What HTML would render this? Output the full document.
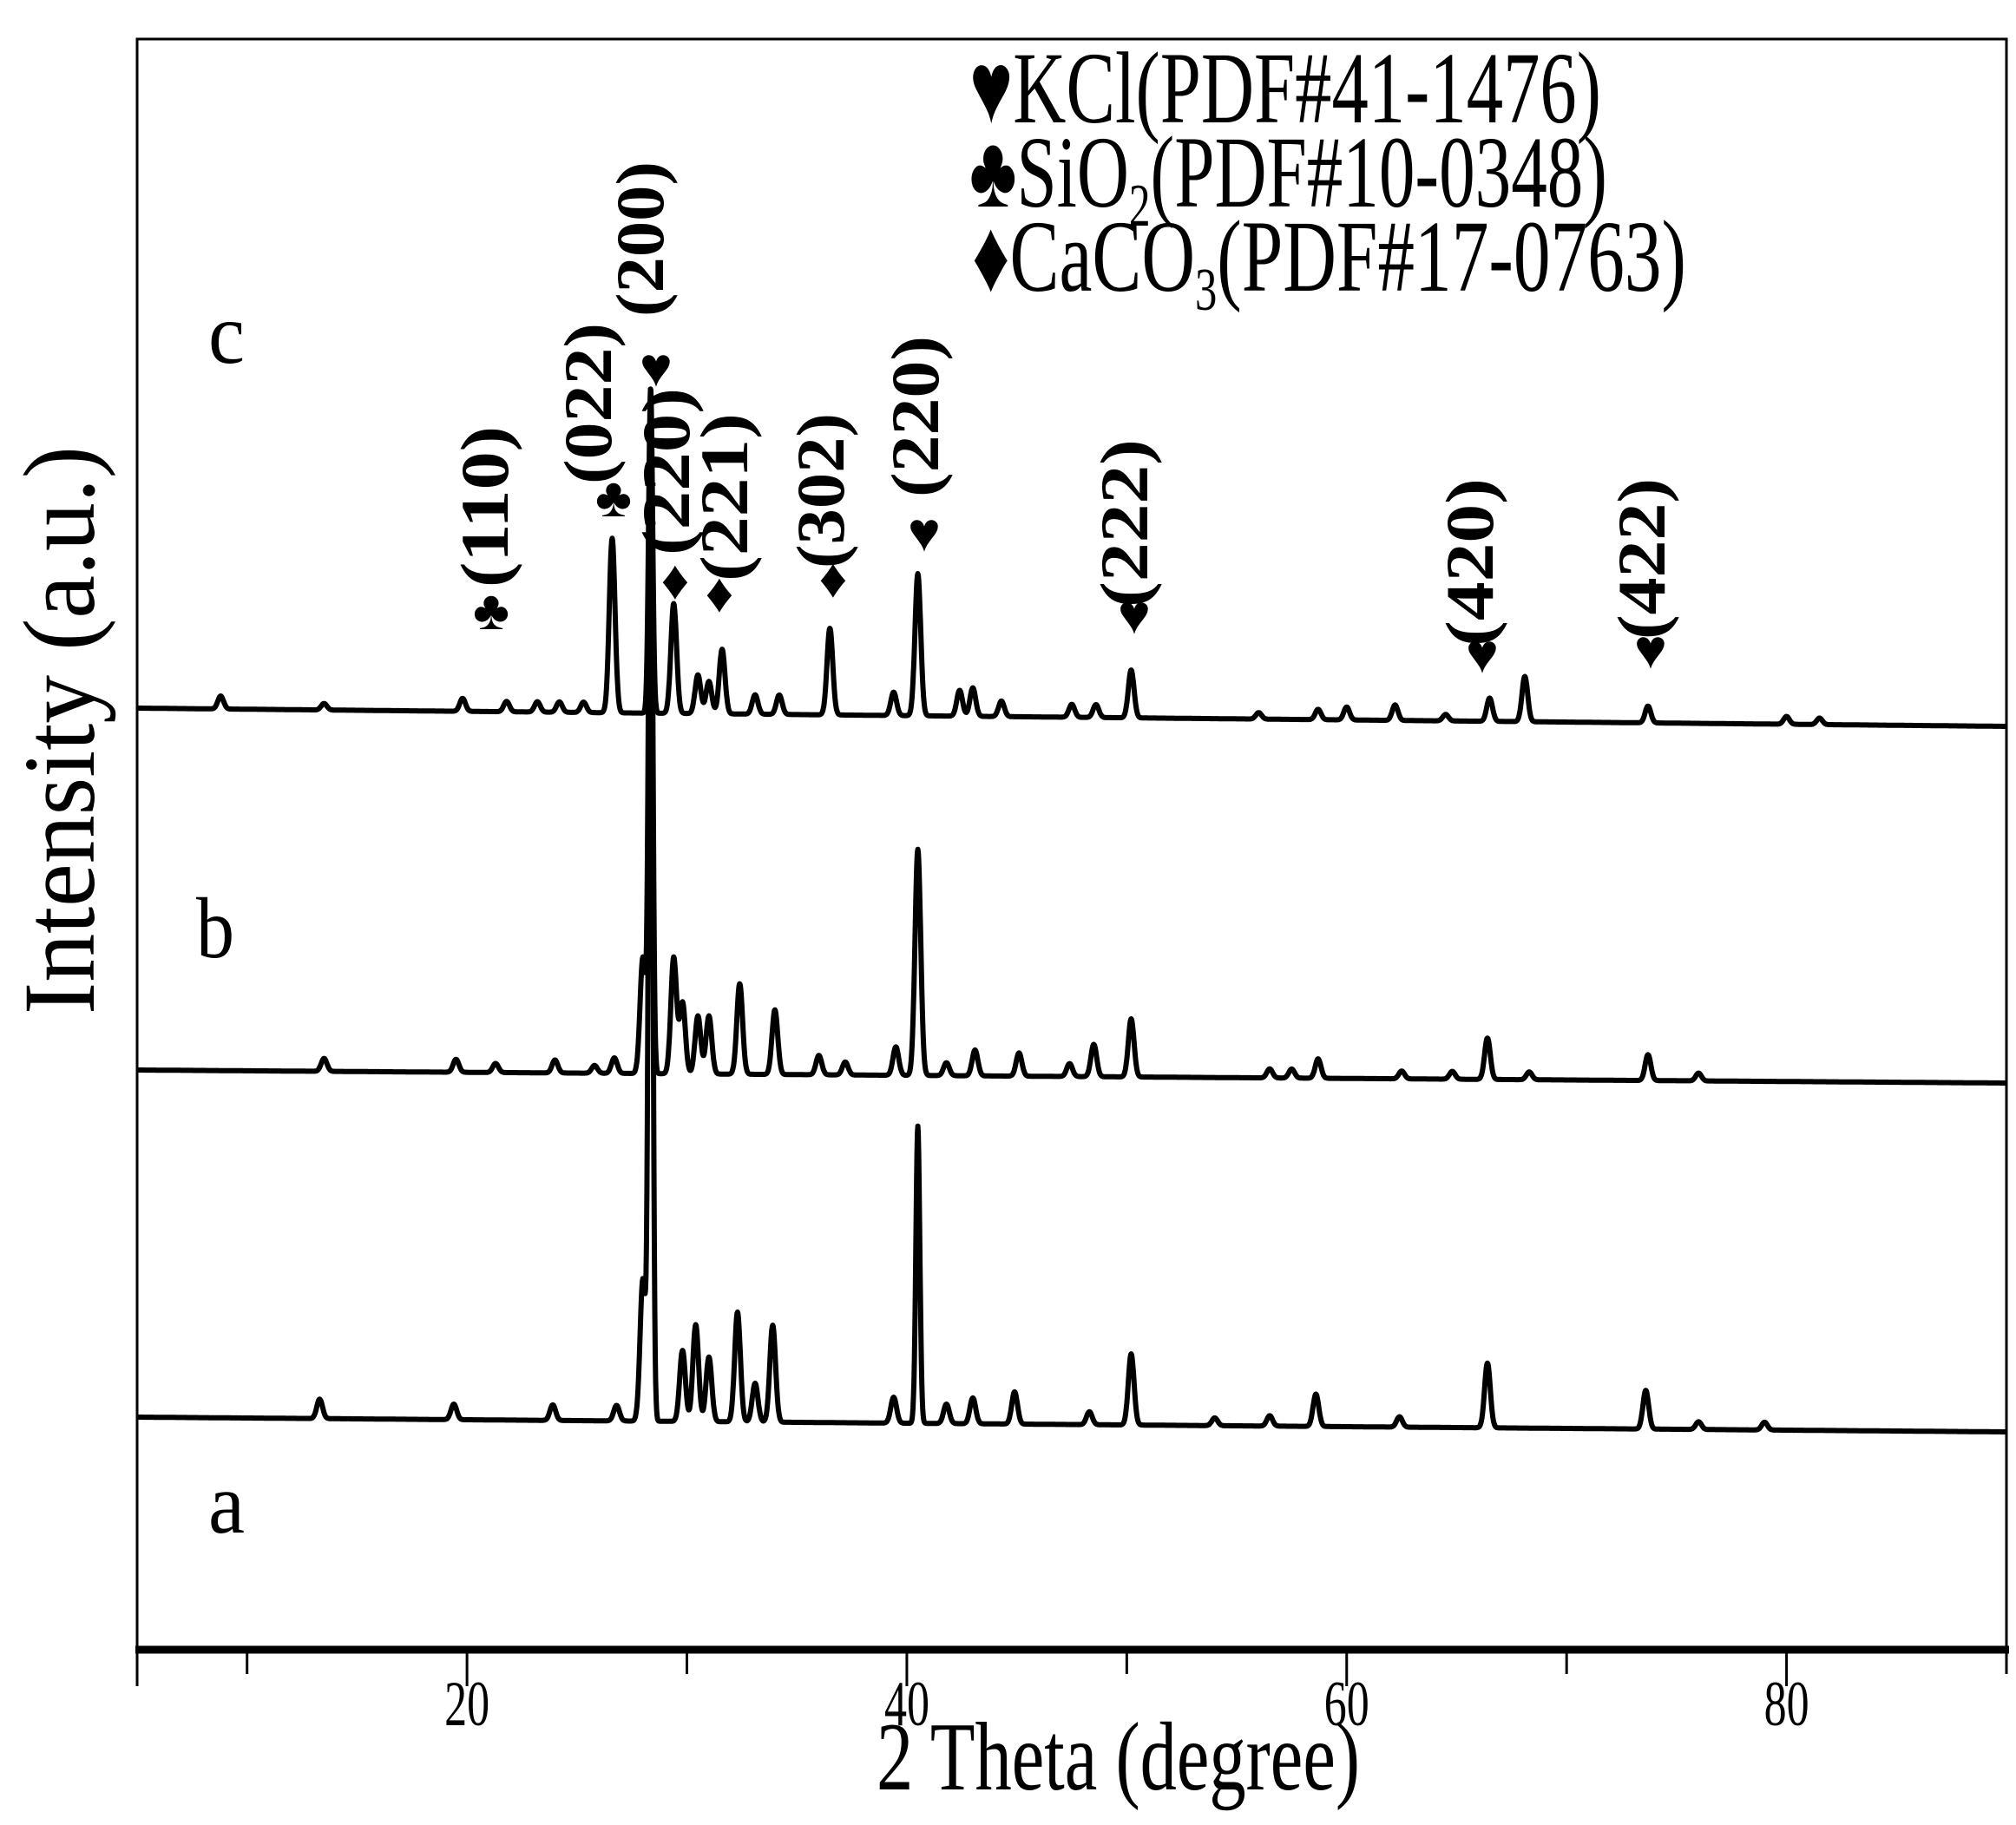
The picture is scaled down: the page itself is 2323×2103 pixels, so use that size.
<!DOCTYPE html>
<html><head><meta charset="utf-8"><style>
html,body{margin:0;padding:0;background:#fff}
svg{display:block}
text{font-family:"Liberation Serif",serif;fill:#000}
</style></head><body>
<svg id="chart" width="2323" height="2103" viewBox="0 0 2323 2103" xmlns="http://www.w3.org/2000/svg">
<rect x="0" y="0" width="2323" height="2103" fill="#fff"/>
<g id="plot"></g>
<g id="axes"></g>
<g id="legend">
 <text x="1117" y="141" font-size="118" textLength="728" lengthAdjust="spacingAndGlyphs">♥KCl(PDF#41-1476)</text>
 <text x="1117" y="238" font-size="118" textLength="735" lengthAdjust="spacingAndGlyphs">♣SiO<tspan font-size="70" dy="22">2</tspan><tspan dy="-22">(PDF#10-0348)</tspan></text>
 <text x="1120" y="335" font-size="118" textLength="823" lengthAdjust="spacingAndGlyphs">♦CaCO<tspan font-size="70" dy="22">3</tspan><tspan dy="-22">(PDF#17-0763)</tspan></text>
</g>
<text x="240" y="418" font-size="100" textLength="42" lengthAdjust="spacingAndGlyphs">c</text>
<text x="226" y="1103" font-size="100" textLength="44" lengthAdjust="spacingAndGlyphs">b</text>
<text x="240" y="1766" font-size="100" textLength="42" lengthAdjust="spacingAndGlyphs">a</text>
<text x="1010" y="2062" font-size="112" textLength="557" lengthAdjust="spacingAndGlyphs">2 Theta (degree)</text>
<text transform="translate(108,1169) rotate(-90)" x="0" y="0" font-size="118" textLength="655" lengthAdjust="spacingAndGlyphs">Intensity (a.u.)</text>
<g id="annot"></g>
</svg>
<script>
// x-axis domain and ticks
const xDomain = [5, 90];
const majorTicks = [20, 40, 60, 80];
const majorTickLabels = ["20", "40", "60", "80"];
const minorTicks = [10, 30, 50, 70, 90];
// peaks: 2theta positions and heights (a.u.) per series
const peakPosA = [13.3,19.4,23.9,26.8,28.0,28.35,29.8,30.4,31.0,32.3,33.1,33.9,39.4,40.5,41.8,43.0,44.9,48.3,50.2,54,56.5,58.6,62.4,66.4,73.6,76,79];
const peakHA   = [15,12,12,12,110,800,55,75,50,85,30,75,20,230,15,20,25,10,55,6,8,25,8,50,30,6,6];
const peakPosB = [13.5,19.5,21.3,24.0,25.8,26.7,28.0,28.35,29.4,29.8,30.5,31.0,32.4,34.0,36.0,37.2,39.5,40.5,41.8,43.1,45.1,47.4,48.5,50.2,56.5,57.5,58.7,62.5,64.8,66.4,68.3,73.7,76];
const peakHB   = [10,10,7,10,6,12,90,530,90,55,45,45,70,50,15,10,22,175,10,20,18,10,25,45,7,7,15,6,6,32,6,20,6];
const peakPosC = [8.8,13.5,19.8,21.8,23.2,24.2,25.3,26.6,28.35,29.4,30.5,31.0,31.6,33.1,34.2,36.5,39.4,40.5,42.4,43.0,44.3,47.5,48.6,50.2,56,58.7,60.0,62.2,64.5,66.5,68.1,73.7,80,81.5];
const peakHC   = [10,5,10,8,8,8,8,135,250,85,30,25,50,15,15,67,18,110,20,22,12,10,10,37,5,8,10,12,5,18,35,13,6,5];
const baseA = [1633, 1650];
const baseB = [1233, 1248];
const baseC = [816, 837];

const L=158, R=2312, T=45, B=1901;
const X = v => L + (v - xDomain[0]) * (R - L) / (xDomain[1] - xDomain[0]);
const yScale = 1.489;
const NS = "http://www.w3.org/2000/svg";
function mk(tag, attrs){const e=document.createElementNS(NS,tag);for(const k in attrs)e.setAttribute(k,attrs[k]);return e;}

function series(pos, h, base, name){
  let d = "";
  for (let v = xDomain[0]; v <= xDomain[1] + 1e-9; v += 0.02){
    let s = 0;
    for (let i = 0; i < pos.length; i++){
      const w = h[i] > 200 ? 0.09 : 0.13;
      const z = (v - pos[i]) / w;
      if (Math.abs(z) < 6) s += h[i] * Math.exp(-0.5 * z * z);
    }
    const b0 = base[0] + (base[1] - base[0]) * (v - xDomain[0]) / (xDomain[1] - xDomain[0]);
    const y = b0 - s * yScale;
    d += (d ? "L" : "M") + X(v).toFixed(1) + "," + y.toFixed(1);
  }
  const p = mk("path", {d: d, fill: "none", stroke: "#000", "stroke-width": 6, "stroke-linejoin": "round"});
  
  
  document.getElementById("plot").appendChild(p);
}
series(peakPosA, peakHA, baseA, "series-a");
series(peakPosB, peakHB, baseB, "series-b");
series(peakPosC, peakHC, baseC, "series-c");

const ax = document.getElementById("axes");
const frame = mk("rect",{x:L,y:T,width:R-L,height:B-T,fill:"none",stroke:"#000","stroke-width":3});


ax.appendChild(frame);
const xl = mk("line",{x1:L-2,x2:R+3,y1:B,y2:B,stroke:"#000","stroke-width":9});


ax.appendChild(xl);
[xDomain[0]].concat(majorTicks).forEach((t, i) => {
  const ln = mk("line",{x1:X(t),x2:X(t),y1:B,y2:B+42,stroke:"#000","stroke-width":3});
  
  
  ax.appendChild(ln);
});
majorTicks.forEach((t, i) => {
  const tx = mk("text",{x:X(t),y:1988,"font-size":74,"text-anchor":"middle",textLength:52,lengthAdjust:"spacingAndGlyphs"});
  tx.textContent = majorTickLabels[i];
  
  
  ax.appendChild(tx);
});
minorTicks.forEach(t => {
  const ln = mk("line",{x1:X(t),x2:X(t),y1:B,y2:B+28,stroke:"#000","stroke-width":3});
  
  
  ax.appendChild(ln);
});

// annotations for series c
const annSym = ["♣","♣","♥","♦","♦","♦","♥","♥","♥","♥"];
const annLbl = ["(110)","(022)","(200)","(220)","(221)","(302)","(220)","(222)","(420)","(422)"];
const annSx = [566,707,756,778,829,960,1065,1307,1708,1902];
const annSy = [725,595,445,690,705,688,635,730,775,770];
const annLx = [573,692,752,782,849,960,1069,1310,1708,1906];
const annLt = [491,372,186,447,476,476,387,506,551,551];
const annLb = [677,558,365,640,670,655,573,700,745,737];
const an = document.getElementById("annot");
annSym.forEach((s, i) => {
  const t = mk("text",{x:annSx[i],y:annSy[i],"font-size":64,"text-anchor":"middle","font-weight":"bold"});
  t.textContent = s;
  
  
  an.appendChild(t);
  const len = annLb[i] - annLt[i];
  const l = mk("text",{transform:`translate(${annLx[i]+12},${annLb[i]}) rotate(-90)`,x:0,y:0,"font-size":78,"font-weight":"bold",textLength:len,lengthAdjust:"spacingAndGlyphs"});
  l.textContent = annLbl[i];
  
  
  an.appendChild(l);
});
</script>
</body></html>
